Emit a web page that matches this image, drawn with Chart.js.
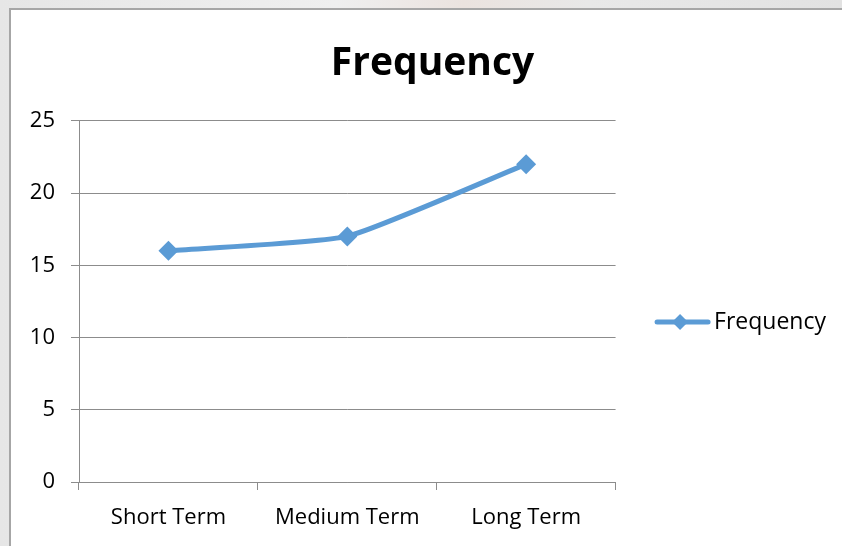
<!DOCTYPE html>
<html>
<head>
<meta charset="utf-8">
<script src="https://cdn.jsdelivr.net/npm/chart.js@4"></script>
<style>
  html, body { margin: 0; padding: 0; width: 842px; height: 546px; overflow: hidden;
    background: linear-gradient(90deg, #e6e6e6 0%, #efefef 40%, #ebe3df 55%, #e8e8e8 70%, #e2e2e2 100%); }
  #frame { position: absolute; left: 9px; top: 8px; width: 833px; height: 538px;
    border-left: 2px solid #a6a6a6; border-top: 2px solid #a6a6a6; background: #fff; }
  canvas { display: block; }
</style>
</head>
<body>
<div id="frame"><canvas id="c" width="831" height="536"></canvas></div>
<script>
const categories = ['Short Term', 'Medium Term', 'Long Term'];
const frequency = [16, 17, 22];
const yTicks = [0, 5, 10, 15, 20, 25];

const FONT = '"Open Sans", Lato, "DejaVu Sans", sans-serif';
const BLUE = '#5b9bd5';
const GRID = '#8c8c8c';
const LABEL_SIZE = 22;
const LEGEND_SIZE = 23;

new Chart(document.getElementById('c'), {
  type: 'line',
  data: {
    labels: categories,
    datasets: [{
      label: 'Frequency',
      data: frequency,
      borderColor: BLUE,
      backgroundColor: BLUE,
      borderWidth: 5,
      pointStyle: 'rectRot',
      pointRadius: 10,
      pointHoverRadius: 10,
      pointBorderWidth: 0,
      tension: 0.15
    }]
  },
  options: {
    responsive: false,
    animation: false,
    layout: { padding: { left: 18, right: 6, top: 30, bottom: 0 } },
    plugins: {
      title: {
        display: true,
        text: 'Frequency',
        color: '#000',
        font: { family: FONT, size: 39, weight: 'bold' },
        padding: { top: 0, bottom: 34 }
      },
      legend: {
        position: 'right',
        align: 'center',
        maxWidth: 300,
        // empty title block nudges the single entry down a little
        title: { display: true, text: ' ', color: '#000', font: { size: 10 }, padding: { top: 23, bottom: 23 } },
        labels: {
          color: '#000',
          font: { family: FONT, size: LEGEND_SIZE },
          boxWidth: 73,
          boxHeight: 5,
          padding: 14,
          generateLabels(chart) {
            const ds = chart.data.datasets[0];
            return [{
              text: ds.label,
              fontColor: '#000',
              fillStyle: 'rgba(0,0,0,0)',
              strokeStyle: 'rgba(0,0,0,0)',
              lineWidth: 0,
              datasetIndex: 0
            }];
          }
        }
      },
      tooltip: { enabled: false }
    },
    scales: {
      x: {
        offset: true,
        afterFit(scale) { scale.height = 64; },
        grid: { display: true, offset: true, drawOnChartArea: false, color: GRID, lineWidth: 1, tickLength: 8 },
        border: { color: GRID, width: 1 },
        ticks: { color: '#000', font: { family: FONT, size: LABEL_SIZE }, padding: 15, maxRotation: 0 }
      },
      y: {
        min: 0,
        max: 25,
        afterBuildTicks(scale) { scale.ticks = yTicks.map(v => ({ value: v })); },
        afterFit(scale) { scale.width = 50; },
        grid: { color: GRID, lineWidth: 1, tickLength: 8 },
        border: { color: GRID, width: 1 },
        ticks: { color: '#000', font: { family: FONT, size: LABEL_SIZE }, padding: 16 }
      }
    }
  },
  plugins: [{
    id: 'legendSample',
    afterDraw(chart) {
      // line-with-diamond sample placed just before the legend text
      const lg = chart.legend;
      if (!lg || !lg.legendHitBoxes || !lg.legendHitBoxes.length) return;
      const hb = lg.legendHitBoxes[0];
      const bw = lg.options.labels.boxWidth;
      const textX = hb.left + bw + LEGEND_SIZE / 2;
      const cy = hb.top + hb.height / 2;
      const ctx = chart.ctx;
      ctx.save();
      ctx.strokeStyle = BLUE;
      ctx.lineWidth = 5;
      ctx.lineCap = 'round';
      ctx.beginPath();
      ctx.moveTo(textX - 57, cy);
      ctx.lineTo(textX - 6, cy);
      ctx.stroke();
      const cx = textX - 34;
      ctx.fillStyle = BLUE;
      ctx.beginPath();
      ctx.moveTo(cx, cy - 8);
      ctx.lineTo(cx + 8, cy);
      ctx.lineTo(cx, cy + 8);
      ctx.lineTo(cx - 8, cy);
      ctx.closePath();
      ctx.fill();
      ctx.restore();
    }
  }]
});
</script>
</body>
</html>
